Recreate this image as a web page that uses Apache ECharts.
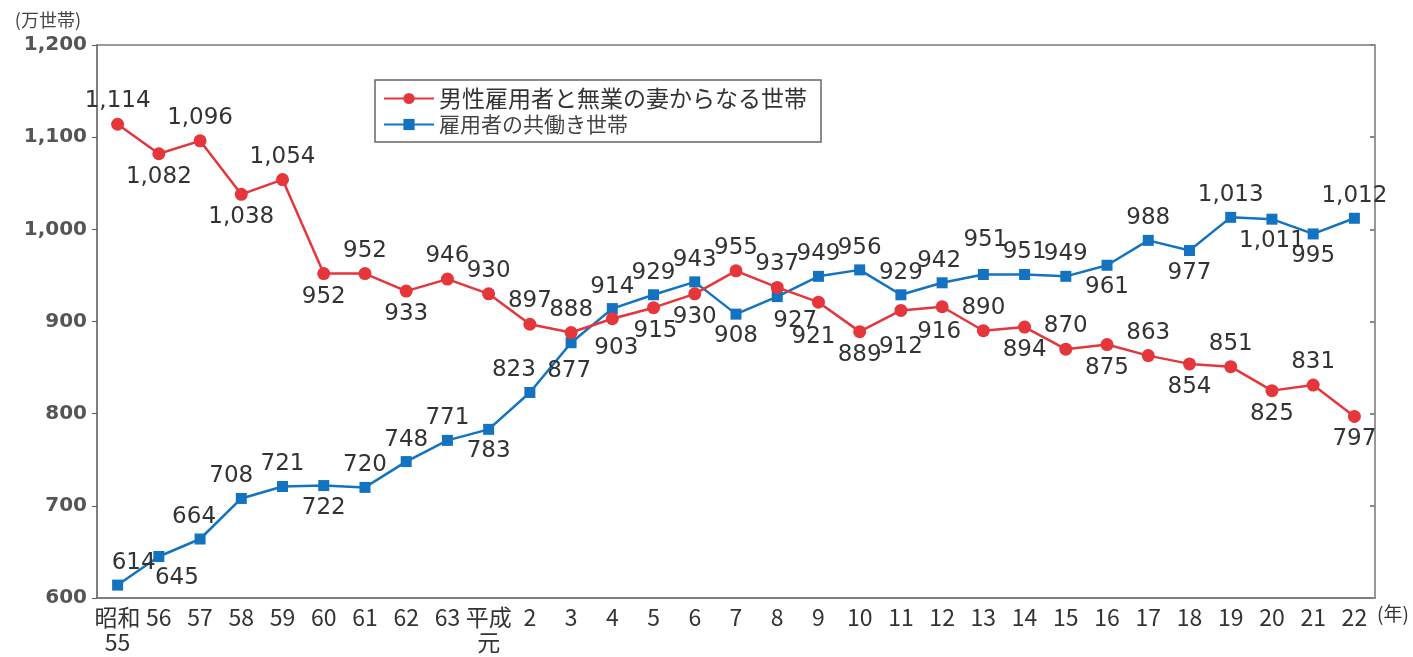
<!DOCTYPE html>
<html>
<head>
<meta charset="utf-8">
<script src="https://cdn.jsdelivr.net/npm/echarts@6/dist/echarts.min.js"></script>
<style>
html,body{margin:0;padding:0;background:#fff;}
#chart{width:1413px;height:657px;}
</style>
</head>
<body>
<div id="chart"></div>
<script>
var categories = ['昭和\n55','56','57','58','59','60','61','62','63','平成\n元','2','3','4','5','6','7','8','9','10','11','12','13','14','15','16','17','18','19','20','21','22'];
var seriesNames = ['男性雇用者と無業の妻からなる世帯','雇用者の共働き世帯'];
var maleOnly = [1114,1082,1096,1038,1054,952,952,933,946,930,897,888,903,915,930,955,937,921,889,912,916,890,894,870,875,863,854,851,825,831,797];
var dualIncome = [614,645,664,708,721,722,720,748,771,783,823,877,914,929,943,908,927,949,956,929,942,951,951,949,961,988,977,1013,1011,995,1012];
var yTicks = [600,700,800,900,1000,1100,1200];

// label placement (T = above, B = below) and nudges [dx, dy]
var maleLabelPos = 'TBTBTBTBTTTTBBBTTBBBBTBTBTBTBTB';
var dualLabelPos = 'TBTTTBTTTBTBTTTBBTTTTTTTBTBTBBT';
var dualLabelNudge = {0: [16, 0], 1: [18, 0], 2: [-6, 0], 3: [-10, 0], 10: [-16, 0], 11: [-2, 6], 16: [18, 2], 21: [2, -12], 20: [-3, 0]};
var maleLabelNudge = {12: [4, 6], 13: [2, 0], 17: [-5, 12], 19: [0, 14], 20: [-3, 2]};

function fmt(v){ return v.toString().replace(/\B(?=(\d{3})+(?!\d))/g, ','); }

function buildData(values, pos, nudge){
  return values.map(function(v, i){
    var p = pos.charAt(i) === 'T' ? 'top' : 'bottom';
    var o = { value: v, label: { position: p } };
    if (nudge && nudge[i] !== undefined) o.label.offset = nudge[i];
    return o;
  });
}

var chart = echarts.init(document.getElementById('chart'));
var labelFont = { fontFamily: 'DejaVu Sans, sans-serif', fontSize: 23, color: '#333' };

chart.setOption({
  animation: false,
  grid: { left: 97, right: 38, top: 45, bottom: 59, show: true, borderColor: '#777', borderWidth: 1.5 },
  legend: {
    orient: 'vertical',
    left: 375, top: 80,
    itemWidth: 50, itemHeight: 14, itemGap: 4,
    padding: [7, 14, 7, 8],
    borderColor: '#666', borderWidth: 1.5,
    textStyle: { fontFamily: 'Noto Sans CJK JP, sans-serif', fontSize: 23, color: '#333' },
    data: [
      { name: seriesNames[0] },
      { name: seriesNames[1], textStyle: { fontSize: 21, color: '#444' } }
    ]
  },
  xAxis: {
    type: 'category',
    data: categories,
    boundaryGap: true,
    name: '(年)',
    nameLocation: 'end',
    nameGap: 2,
    nameTextStyle: { fontFamily: 'Noto Sans CJK JP, sans-serif', fontSize: 19, color: '#333', verticalAlign: 'top', padding: [6, 0, 0, 0] },
    axisLine: { lineStyle: { color: '#777', width: 1.5 } },
    axisTick: { alignWithLabel: true, length: 5, lineStyle: { color: '#555' } },
    axisLabel: { interval: 0, margin: 7, fontFamily: 'Liberation Sans Narrow, Noto Sans CJK JP, sans-serif', fontSize: 23, color: '#333', lineHeight: 25 }
  },
  yAxis: [{
    type: 'value',
    min: yTicks[0], max: yTicks[yTicks.length - 1], interval: 100,
    name: '(万世帯)',
    nameLocation: 'end',
    nameGap: 16,
    nameTextStyle: { fontFamily: 'Noto Sans CJK JP, sans-serif', fontSize: 18, color: '#444', align: 'right', padding: [0, 16, 0, 0] },
    axisLine: { show: true, lineStyle: { color: '#777', width: 1.5 } },
    axisTick: { show: true, length: 5, lineStyle: { color: '#555' } },
    splitLine: { show: false },
    axisLabel: { margin: 10, fontFamily: 'DejaVu Sans, sans-serif', fontSize: 20, color: '#555', fontWeight: 'bold', formatter: function(v){ return fmt(v); } }
  }, {
    type: 'value', position: 'right',
    min: yTicks[0], max: yTicks[yTicks.length - 1], interval: 100,
    axisLine: { show: false },
    axisTick: { show: true, inside: true, length: 5, lineStyle: { color: '#888', width: 2 } },
    axisLabel: { show: false },
    splitLine: { show: false }
  }],
  series: [{
    name: seriesNames[0],
    type: 'line',
    data: buildData(maleOnly, maleLabelPos, maleLabelNudge),
    symbol: 'circle', symbolSize: 13,
    itemStyle: { color: '#e5363c' },
    lineStyle: { color: '#e5363c', width: 2.5 },
    label: Object.assign({ show: true, distance: 5, formatter: function(p){ return fmt(p.value); } }, labelFont),
    z: 3
  }, {
    name: seriesNames[1],
    type: 'line',
    data: buildData(dualIncome, dualLabelPos, dualLabelNudge),
    symbol: 'rect', symbolSize: 11,
    itemStyle: { color: '#1473c1' },
    lineStyle: { color: '#1473c1', width: 2.5 },
    label: Object.assign({ show: true, distance: 5, formatter: function(p){ return fmt(p.value); } }, labelFont),
    z: 2
  }]
});
</script>
</body>
</html>
